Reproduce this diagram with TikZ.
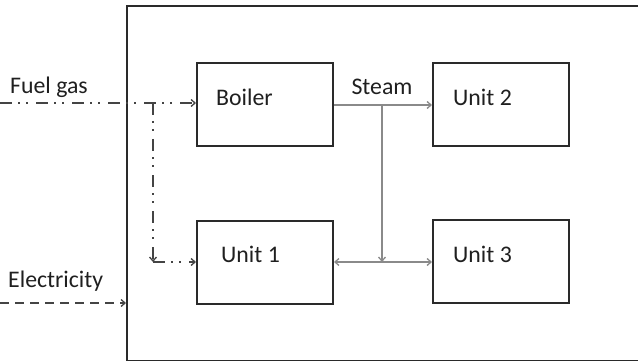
\documentclass[tikz,border=0pt]{standalone}
\usepackage{fontspec}
\setmainfont{Carlito}
\usetikzlibrary{arrows.meta}
\definecolor{boxline}{HTML}{2A2A2A}
\definecolor{fuelline}{HTML}{444444}
\definecolor{steamline}{HTML}{8A8A8A}
\tikzset{
  unitbox/.style={draw=boxline, line width=2pt, minimum width=136pt, minimum height=83pt, inner sep=0pt},
  lbl/.style={anchor=base west, inner sep=0pt, font=\fontsize{23.8}{27}\selectfont, text=black!88},
  tip/.style={-{Straight Barb[length=4pt,width=7pt,line width=1.3pt]}},
  fuel/.style={tip, draw=fuelline, line width=1.5pt,
    dash pattern=on 12pt off 6pt on 2pt off 6pt on 2pt off 8pt},
  power/.style={tip, draw=fuelline, line width=1.5pt, dash pattern=on 9pt off 6pt},
  steam/.style={tip, draw=steamline, line width=1.8pt}
}
\begin{document}
\begin{tikzpicture}[x=1pt, y=-1pt]
  \clip (0,0) rectangle (638,361);
  % plant boundary
  \node[draw=boxline, line width=2.2pt, minimum width=530pt, minimum height=355pt,
        inner sep=0pt, anchor=north west] (site) at (126,5) {};
  % process units
  \node[unitbox] (boiler) at (265,104.5) {};
  \node[unitbox] (unit2) at (501,104.5) {};
  \node[unitbox] (unit1) at (265,262) {};
  \node[unitbox] (unit3) at (501,261.5) {};
  % labels
  \node[lbl] (tboiler) at (216,106) {Boiler};
  \node[lbl] (tunit2) at (453,106) {Unit 2};
  \node[lbl] (tunit1) at (221,262) {Unit 1};
  \node[lbl] (tunit3) at (453,262) {Unit 3};
  \node[lbl, anchor=base] (tsteam) at (382,95) {Steam};
  \node[lbl] (tfuel) at (10,94) {Fuel gas};
  \node[lbl] (telec) at (8,287) {Electricity};
  % connector points
  \coordinate (fuelin) at (0,103);
  \coordinate (branch) at (153,103);
  \coordinate (bend) at (153,262);
  \coordinate (elecin) at (0,303);
  \coordinate (steamrow) at (0,105);
  \coordinate (split) at (382,105);
  \coordinate (join) at (382,262);
  % fuel gas supply
  \draw[fuel] (fuelin) -- (boiler.west |- fuelin);
  \draw[fuel] (branch) -- (bend);
  \draw[fuel] (bend) -- (unit1.west |- bend);
  % electricity supply
  \draw[power] (elecin) -- (site.west |- elecin);
  % steam distribution
  \draw[steam] (boiler.east |- steamrow) -- (unit2.west |- steamrow);
  \draw[steam] (split) -- (join);
  \draw[steam, {Straight Barb[length=4pt,width=7pt,line width=1.3pt]}-{Straight Barb[length=4pt,width=7pt,line width=1.3pt]}]
    (unit1.east |- join) -- (unit3.west |- join);
\end{tikzpicture}
\end{document}
